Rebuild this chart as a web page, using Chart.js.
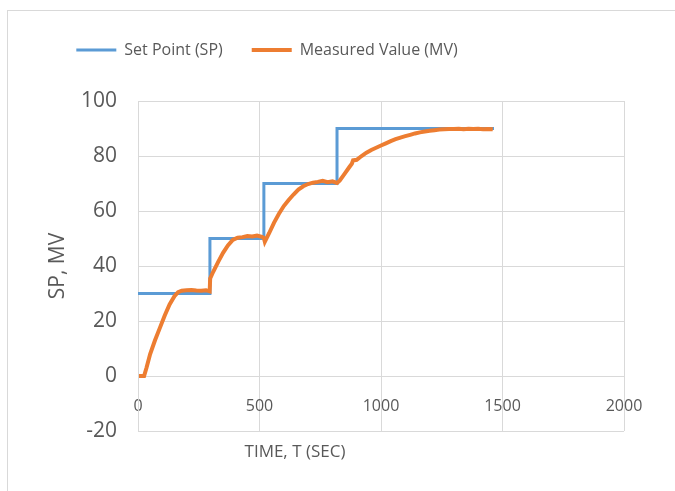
<!DOCTYPE html>
<html>
<head>
<meta charset="utf-8">
<script src="https://cdn.jsdelivr.net/npm/chart.js@4.4.0/dist/chart.umd.min.js"></script>
<style>
  html, body { margin: 0; padding: 0; background: #fff; }
  #frame { position: absolute; left: 7px; top: 10px; width: 700px; height: 520px;
           border-left: 1px solid #d9d9d9; border-top: 1px solid #d9d9d9; }
  #wrap { position: absolute; left: 0; top: 0; width: 675px; height: 491px; }
</style>
</head>
<body>
<div id="frame"></div>
<div id="wrap"><canvas id="chart"></canvas></div>
<script>
// set point steps (time in sec, value)
const spTime  = [0, 296, 296, 518, 518, 819, 819, 1465];
const spValue = [30, 30, 50, 50, 70, 70, 90, 90];

const mvTime = [4, 25, 35, 50, 70, 90, 110, 130, 150, 165, 180, 200, 220, 240, 260, 280, 295,
  297, 310, 330, 350, 370, 390, 410, 430, 450, 470, 490, 510, 518,
  522, 540, 560, 580, 600, 620, 640, 660, 680, 700, 720, 740, 760, 780, 800, 819,
  830, 850, 870, 880, 885, 900, 920, 940, 960, 980, 1000, 1020, 1040, 1060, 1080, 1100,
  1120, 1140, 1160, 1180, 1200, 1220, 1240, 1260, 1280, 1300, 1320, 1340, 1360, 1380, 1400, 1420, 1440, 1460];
const mvValue = [0, 0, 3, 8, 13, 17.5, 22, 26, 29, 30.5, 31, 31.2, 31.3, 31.1, 31.0, 31.2, 30.8,
  35.5, 38, 41.5, 44.8, 47.5, 49.5, 50.3, 50.5, 50.9, 50.7, 51.1, 50.6, 50.2,
  48.8, 52, 55.8, 59, 61.8, 64, 66, 67.8, 69, 69.8, 70.3, 70.6, 71, 70.5, 70.8, 70.2,
  71, 73.5, 76, 77.2, 78.4, 78.6, 80, 81.2, 82.2, 83, 83.8, 84.6, 85.4, 86.1, 86.7, 87.2,
  87.7, 88.2, 88.6, 88.9, 89.2, 89.4, 89.6, 89.7, 89.8, 89.8, 89.9, 89.7, 89.9, 89.8, 89.9, 89.7, 89.8, 89.7];

const xMin = 0, xMax = 2000, xStep = 500;
const yMin = -20, yMax = 100, yStep = 20;

const spPoints = spTime.map((t, i) => ({x: t, y: spValue[i]}));
const mvPoints = mvTime.map((t, i) => ({x: t, y: mvValue[i]}));

const textColor = '#595959';
const gridColor = '#d9d9d9';
const fam = '"Open Sans", sans-serif';

// legend: fixed height and shifted left like the original
const legendTweak = {
  id: 'legendTweak',
  beforeLayout(chart) {
    const lg = chart.legend;
    if (lg && !lg._patched) {
      const orig = lg.fit;
      lg.fit = function() { orig.call(this); this.height = 88; };
      lg._patched = true;
    }
  },
  afterLayout(chart) {
    const lg = chart.legend;
    lg.left -= 45;
    lg.right -= 45;
  }
};

// x axis title sits below the plot, left of centre
const xTitle = {
  id: 'xTitle',
  afterDraw(chart) {
    const ctx = chart.ctx, a = chart.chartArea;
    ctx.save();
    ctx.font = '17px ' + fam;
    ctx.fillStyle = textColor;
    ctx.textAlign = 'center';
    ctx.textBaseline = 'middle';
    ctx.fillText('TIME, T (SEC)', a.left + 157, a.bottom + 21);
    ctx.restore();
  }
};

const data = {
  datasets: [{
    label: 'Set Point (SP)',
    data: spPoints,
    borderColor: '#5B9BD5',
    backgroundColor: '#5B9BD5',
    borderWidth: 3,
    pointRadius: 0,
    order: 2
  }, {
    label: 'Measured Value (MV)',
    data: mvPoints,
    borderColor: '#ED7D31',
    backgroundColor: '#ED7D31',
    borderWidth: 4,
    pointRadius: 0,
    order: 1
  }]
};

const options = {
  responsive: true,
  maintainAspectRatio: false,
  animation: false,
  layout: { padding: { top: 13, right: 51, bottom: 60, left: 0 } },
  plugins: {
    legend: {
      position: 'top',
      labels: {
        usePointStyle: true,
        pointStyle: 'line',
        pointStyleWidth: 40,
        padding: 29,
        color: textColor,
        font: { family: fam, size: 16 },
        sort: (a, b) => a.datasetIndex - b.datasetIndex
      }
    },
    tooltip: { enabled: false }
  },
  scales: {
    x: {
      type: 'linear',
      position: { y: 0 },
      min: xMin, max: xMax,
      ticks: { stepSize: xStep, color: textColor, padding: 21, font: { family: fam, size: 16 }, maxRotation: 0,
               callback: v => String(v) },
      grid: { color: gridColor, drawTicks: false },
      border: { color: gridColor }
    },
    y: {
      min: yMin, max: yMax,
      ticks: { stepSize: yStep, color: textColor, padding: 21, font: { family: fam, size: 21 } },
      grid: { color: gridColor, drawTicks: false },
      border: { color: gridColor },
      title: { display: true, text: 'SP, MV', color: textColor, font: { family: fam, size: 21 }, padding: { top: 45, bottom: 0 } },
      afterFit(scale) { scale.width = 138; }
    }
  }
};

const ctx = document.getElementById('chart').getContext('2d');
new Chart(ctx, { type: 'line', data: data, options: options, plugins: [legendTweak, xTitle] });
</script>
</body>
</html>
